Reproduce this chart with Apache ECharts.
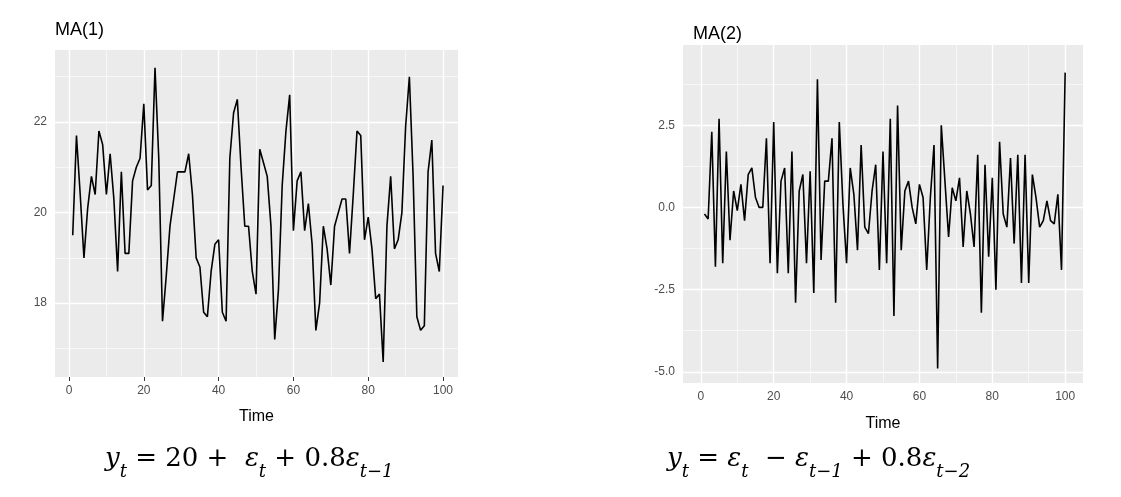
<!DOCTYPE html>
<html><head><meta charset="utf-8">
<script src="https://cdn.jsdelivr.net/npm/echarts@6/dist/echarts.min.js"></script>
<style>html,body{margin:0;background:#fff}#c{width:1121px;height:497px}</style>
</head><body><div id="c"></div>
<script>
// MA(1) 序列 y_t = 20 + e_t + 0.8 e_{t-1}
const ma1 = [19.5,21.7,20.4,19.0,20.1,20.8,20.4,21.8,21.5,20.4,21.3,20.3,18.7,20.9,19.1,19.1,20.7,21.0,21.2,22.4,
  20.5,20.6,23.2,21.2,17.6,18.6,19.7,20.3,20.9,20.9,20.9,21.3,20.4,19.0,18.8,17.8,17.7,18.7,19.3,19.4,
  17.8,17.6,21.2,22.2,22.5,21.0,19.7,19.7,18.7,18.2,21.4,21.1,20.8,19.7,17.2,18.3,20.6,21.8,22.6,19.6,
  20.7,20.9,19.6,20.2,19.3,17.4,18.0,19.7,19.2,18.4,19.7,20.0,20.3,20.3,19.1,20.4,21.8,21.7,19.4,19.9,
  19.2,18.1,18.2,16.7,19.7,20.8,19.2,19.4,20.0,21.9,23.0,20.8,17.7,17.4,17.5,20.9,21.6,19.1,18.7,20.6];
// MA(2) 序列 y_t = e_t - e_{t-1} + 0.8 e_{t-2}
const ma2 = [-0.2,-0.35,2.3,-1.8,2.7,-1.7,1.7,-1.0,0.5,-0.1,0.7,-0.4,1.0,1.2,0.3,0.0,0.0,2.1,-1.7,2.6,
  -2.0,0.8,1.2,-2.0,1.7,-2.9,0.5,1.0,-1.7,1.1,-2.6,3.9,-1.6,0.8,0.8,2.1,-2.9,2.6,0.1,-1.7,
  1.2,0.4,-1.3,1.9,-0.6,-0.8,0.5,1.3,-1.9,1.7,-1.7,2.7,-3.3,3.1,-1.3,0.5,0.8,0.0,-0.5,0.7,
  0.3,-1.9,0.3,1.9,-4.9,2.5,0.8,-0.9,0.6,0.2,0.9,-1.2,0.5,-0.2,-1.2,1.6,-3.2,1.3,-1.5,0.9,
  -2.5,2.0,-0.2,-0.6,1.5,-1.1,1.6,-2.3,1.6,-2.3,1.0,0.3,-0.6,-0.4,0.2,-0.4,-0.5,0.4,-1.9,4.1];
const xTicks = [0,20,40,60,80,100];
const xMinor = [10,30,50,70,90];
const y1Ticks = [18,20,22], y1Minor = [17,19,21,23];
const y2Ticks = [-5.0,-2.5,0.0,2.5], y2Minor = [-3.75,-1.25,1.25,3.75];

const toXY = arr => arr.map((v, i) => [i + 1, v]);
const gridLines = (xs, xm, ys, ym) => {
  const d = [];
  xm.forEach(v => d.push({ xAxis: v, lineStyle: { width: 0.6 } }));
  ym.forEach(v => d.push({ yAxis: v, lineStyle: { width: 0.6 } }));
  xs.forEach(v => d.push({ xAxis: v, lineStyle: { width: 1.4 } }));
  ys.forEach(v => d.push({ yAxis: v, lineStyle: { width: 1.4 } }));
  return d;
};
const lbl = { color: '#4d4d4d', fontSize: 12, fontFamily: 'Liberation Sans' };
const mkX = (gi, min, max, gap) => ({
  gridIndex: gi, type: 'value', min, max, name: 'Time', nameLocation: 'middle', nameGap: gap,
  nameTextStyle: { color: '#000', fontSize: 16, fontFamily: 'Liberation Sans' },
  axisLine: { show: false }, splitLine: { show: false },
  axisTick: { customValues: xTicks, length: 4, lineStyle: { color: '#333' } },
  axisLabel: Object.assign({ customValues: xTicks }, lbl)
});
const mkY = (gi, min, max, ticks, fmt) => ({
  gridIndex: gi, type: 'value', min, max,
  axisLine: { show: false }, splitLine: { show: false },
  axisTick: { show: true, customValues: ticks, length: 4, lineStyle: { color: '#333' } },
  axisLabel: Object.assign({ customValues: ticks, formatter: fmt }, lbl)
});
// 白色网格线单独放一个系列，压在黑线下面
const gridSeries = (gi, g) => ({
  type: 'line', xAxisIndex: gi, yAxisIndex: gi, data: [], z: 1,
  markLine: { silent: true, symbol: 'none', label: { show: false }, animation: false,
    lineStyle: { color: '#fff', type: 'solid' }, data: g }
});
const series = (gi, data) => ({
  type: 'line', xAxisIndex: gi, yAxisIndex: gi, data: toXY(data), symbol: 'none', z: 5,
  lineStyle: { color: '#000', width: 1.6 }
});
const sub = { fontFamily: 'DejaVu Serif', fontStyle: 'italic', fontSize: 18, verticalAlign: 'bottom', padding: [0, 0, -9, 0] };
const formula = { fontFamily: 'DejaVu Serif', fontSize: 26 };
const it = Object.assign({}, formula, { fontStyle: 'italic' });

const chart = echarts.init(document.getElementById('c'));
chart.setOption({
  animation: false,
  title: [
    { text: 'MA(1)', left: 50, top: 16, textStyle: { fontSize: 18, fontWeight: 'normal', color: '#000', fontFamily: 'Liberation Sans' } },
    { text: 'MA(2)', left: 688, top: 20, textStyle: { fontSize: 18, fontWeight: 'normal', color: '#000', fontFamily: 'Liberation Sans' } }
  ],
  grid: [
    { left: 55, right: 663, top: 50, bottom: 120, show: true, backgroundColor: '#ebebeb', borderWidth: 0 },
    { left: 683, right: 38, top: 45, bottom: 114, show: true, backgroundColor: '#ebebeb', borderWidth: 0 }
  ],
  xAxis: [mkX(0, -3.74, 104, 32), mkX(1, -4.9, 104.9, 33)],
  yAxis: [mkY(0, 16.37, 23.59, y1Ticks, v => String(v)), mkY(1, -5.34, 4.94, y2Ticks, v => v.toFixed(1))],
  series: [gridSeries(0, gridLines(xTicks, xMinor, y1Ticks, y1Minor)), series(0, ma1),
           gridSeries(1, gridLines(xTicks, xMinor, y2Ticks, y2Minor)), series(1, ma2)],
  graphic: [
    { type: 'text', left: 105, top: 446, style: { text: '{i|y}{s|t}{n| = 20 +  }{i|ε}{s|t}{n| + 0.8}{i|ε}{s|t−1}',
      rich: { i: it, n: formula, s: sub } } },
    { type: 'text', left: 667, top: 446, style: { text: '{i|y}{s|t}{n| = }{i|ε}{s|t}{n|  − }{i|ε}{s|t−1}{n| + 0.8}{i|ε}{s|t−2}',
      rich: { i: it, n: formula, s: sub } } }
  ]
});
</script></body></html>
